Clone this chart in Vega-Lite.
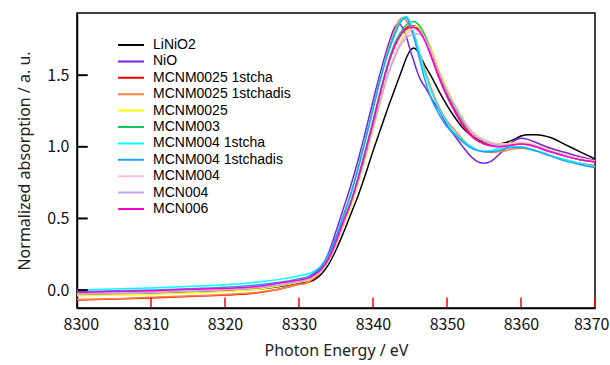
{
 "$schema": "https://vega.github.io/schema/vega-lite/v6.json",
 "width": 518, "height": 295,
 "autosize": {"type": "none"},
 "padding": {"left": 77, "top": 13, "right": 15, "bottom": 57},
 "background": "white",
 "config": {"view": {"stroke": "black", "strokeWidth": 1.5}},
 "layer": [
 {
 "data": {"values": [
  {"E":8300,"LiNiO2":-0.03,"NiO":-0.02,"MCNM0025 1stcha":-0.07,"MCNM0025 1stchadis":-0.065,"MCNM0025":-0.04,"MCNM003":-0.025,"MCNM004 1stcha":0.0,"MCNM004 1stchadis":-0.01,"MCNM004":-0.02,"MCN004":-0.03,"MCN006":-0.015},
  {"E":8305,"LiNiO2":-0.025,"NiO":-0.02,"MCNM0025 1stcha":-0.063,"MCNM0025 1stchadis":-0.06,"MCNM0025":-0.035,"MCNM003":-0.02,"MCNM004 1stcha":0.008,"MCNM004 1stchadis":-0.005,"MCNM004":-0.015,"MCN004":-0.025,"MCN006":-0.01},
  {"E":8310,"LiNiO2":-0.02,"NiO":-0.012,"MCNM0025 1stcha":-0.055,"MCNM0025 1stchadis":-0.05,"MCNM0025":-0.03,"MCNM003":-0.015,"MCNM004 1stcha":0.015,"MCNM004 1stchadis":0.0,"MCNM004":-0.01,"MCN004":-0.02,"MCN006":-0.005},
  {"E":8315,"LiNiO2":-0.012,"NiO":-0.005,"MCNM0025 1stcha":-0.045,"MCNM0025 1stchadis":-0.042,"MCNM0025":-0.02,"MCNM003":-0.005,"MCNM004 1stcha":0.025,"MCNM004 1stchadis":0.01,"MCNM004":0.0,"MCN004":-0.01,"MCN006":0.005},
  {"E":8320,"LiNiO2":-0.005,"NiO":0.0,"MCNM0025 1stcha":-0.035,"MCNM0025 1stchadis":-0.03,"MCNM0025":-0.01,"MCNM003":0.005,"MCNM004 1stcha":0.037,"MCNM004 1stchadis":0.02,"MCNM004":0.01,"MCN004":0.0,"MCN006":0.012},
  {"E":8325,"LiNiO2":0.01,"NiO":0.015,"MCNM0025 1stcha":-0.015,"MCNM0025 1stchadis":-0.012,"MCNM0025":0.01,"MCNM003":0.02,"MCNM004 1stcha":0.06,"MCNM004 1stchadis":0.04,"MCNM004":0.025,"MCN004":0.02,"MCN006":0.03},
  {"E":8328,"LiNiO2":0.03,"NiO":0.04,"MCNM0025 1stcha":0.015,"MCNM0025 1stchadis":0.015,"MCNM0025":0.035,"MCNM003":0.045,"MCNM004 1stcha":0.08,"MCNM004 1stchadis":0.06,"MCNM004":0.05,"MCN004":0.04,"MCN006":0.055},
  {"E":8330,"LiNiO2":0.05,"NiO":0.06,"MCNM0025 1stcha":0.04,"MCNM0025 1stchadis":0.04,"MCNM0025":0.055,"MCNM003":0.065,"MCNM004 1stcha":0.1,"MCNM004 1stchadis":0.08,"MCNM004":0.065,"MCN004":0.06,"MCN006":0.07},
  {"E":8331,"LiNiO2":0.055,"NiO":0.075,"MCNM0025 1stcha":0.05,"MCNM0025 1stchadis":0.05,"MCNM0025":0.065,"MCNM003":0.075,"MCNM004 1stcha":0.11,"MCNM004 1stchadis":0.09,"MCNM004":0.075,"MCN004":0.07,"MCN006":0.08},
  {"E":8332,"LiNiO2":0.07,"NiO":0.11,"MCNM0025 1stcha":0.08,"MCNM0025 1stchadis":0.085,"MCNM0025":0.09,"MCNM003":0.1,"MCNM004 1stcha":0.13,"MCNM004 1stchadis":0.12,"MCNM004":0.1,"MCN004":0.095,"MCN006":0.105},
  {"E":8333,"LiNiO2":0.11,"NiO":0.16,"MCNM0025 1stcha":0.13,"MCNM0025 1stchadis":0.14,"MCNM0025":0.13,"MCNM003":0.145,"MCNM004 1stcha":0.17,"MCNM004 1stchadis":0.165,"MCNM004":0.14,"MCN004":0.135,"MCN006":0.145},
  {"E":8334,"LiNiO2":0.18,"NiO":0.26,"MCNM0025 1stcha":0.21,"MCNM0025 1stchadis":0.23,"MCNM0025":0.2,"MCNM003":0.22,"MCNM004 1stcha":0.25,"MCNM004 1stchadis":0.25,"MCNM004":0.21,"MCN004":0.21,"MCN006":0.22},
  {"E":8335,"LiNiO2":0.28,"NiO":0.41,"MCNM0025 1stcha":0.33,"MCNM0025 1stchadis":0.36,"MCNM0025":0.31,"MCNM003":0.34,"MCNM004 1stcha":0.37,"MCNM004 1stchadis":0.37,"MCNM004":0.32,"MCN004":0.32,"MCN006":0.34},
  {"E":8336,"LiNiO2":0.4,"NiO":0.57,"MCNM0025 1stcha":0.47,"MCNM0025 1stchadis":0.51,"MCNM0025":0.44,"MCNM003":0.48,"MCNM004 1stcha":0.52,"MCNM004 1stchadis":0.52,"MCNM004":0.46,"MCN004":0.46,"MCN006":0.48},
  {"E":8337,"LiNiO2":0.53,"NiO":0.73,"MCNM0025 1stcha":0.61,"MCNM0025 1stchadis":0.67,"MCNM0025":0.58,"MCNM003":0.62,"MCNM004 1stcha":0.67,"MCNM004 1stchadis":0.67,"MCNM004":0.6,"MCN004":0.6,"MCN006":0.61},
  {"E":8338,"LiNiO2":0.66,"NiO":0.91,"MCNM0025 1stcha":0.78,"MCNM0025 1stchadis":0.86,"MCNM0025":0.74,"MCNM003":0.79,"MCNM004 1stcha":0.86,"MCNM004 1stchadis":0.85,"MCNM004":0.76,"MCN004":0.76,"MCN006":0.78},
  {"E":8339,"LiNiO2":0.81,"NiO":1.11,"MCNM0025 1stcha":0.97,"MCNM0025 1stchadis":1.06,"MCNM0025":0.92,"MCNM003":0.98,"MCNM004 1stcha":1.06,"MCNM004 1stchadis":1.05,"MCNM004":0.94,"MCN004":0.94,"MCN006":0.97},
  {"E":8340,"LiNiO2":0.97,"NiO":1.32,"MCNM0025 1stcha":1.17,"MCNM0025 1stchadis":1.27,"MCNM0025":1.11,"MCNM003":1.18,"MCNM004 1stcha":1.27,"MCNM004 1stchadis":1.26,"MCNM004":1.13,"MCN004":1.13,"MCN006":1.17},
  {"E":8341,"LiNiO2":1.12,"NiO":1.52,"MCNM0025 1stcha":1.38,"MCNM0025 1stchadis":1.48,"MCNM0025":1.31,"MCNM003":1.39,"MCNM004 1stcha":1.48,"MCNM004 1stchadis":1.47,"MCNM004":1.33,"MCN004":1.32,"MCN006":1.38},
  {"E":8342,"LiNiO2":1.27,"NiO":1.7,"MCNM0025 1stcha":1.57,"MCNM0025 1stchadis":1.67,"MCNM0025":1.5,"MCNM003":1.58,"MCNM004 1stcha":1.66,"MCNM004 1stchadis":1.65,"MCNM004":1.51,"MCN004":1.5,"MCN006":1.57},
  {"E":8343,"LiNiO2":1.41,"NiO":1.84,"MCNM0025 1stcha":1.71,"MCNM0025 1stchadis":1.82,"MCNM0025":1.65,"MCNM003":1.73,"MCNM004 1stcha":1.8,"MCNM004 1stchadis":1.79,"MCNM004":1.65,"MCN004":1.63,"MCN006":1.71},
  {"E":8343.5,"LiNiO2":1.48,"NiO":1.86,"MCNM0025 1stcha":1.76,"MCNM0025 1stchadis":1.88,"MCNM0025":1.71,"MCNM003":1.78,"MCNM004 1stcha":1.86,"MCNM004 1stchadis":1.85,"MCNM004":1.71,"MCN004":1.69,"MCN006":1.76},
  {"E":8344,"LiNiO2":1.55,"NiO":1.83,"MCNM0025 1stcha":1.8,"MCNM0025 1stchadis":1.9,"MCNM0025":1.76,"MCNM003":1.82,"MCNM004 1stcha":1.9,"MCNM004 1stchadis":1.89,"MCNM004":1.75,"MCN004":1.73,"MCN006":1.8},
  {"E":8344.5,"LiNiO2":1.62,"NiO":1.77,"MCNM0025 1stcha":1.83,"MCNM0025 1stchadis":1.88,"MCNM0025":1.8,"MCNM003":1.85,"MCNM004 1stcha":1.91,"MCNM004 1stchadis":1.9,"MCNM004":1.78,"MCN004":1.76,"MCN006":1.82},
  {"E":8345,"LiNiO2":1.67,"NiO":1.68,"MCNM0025 1stcha":1.845,"MCNM0025 1stchadis":1.83,"MCNM0025":1.83,"MCNM003":1.87,"MCNM004 1stcha":1.87,"MCNM004 1stchadis":1.85,"MCNM004":1.81,"MCN004":1.78,"MCN006":1.835},
  {"E":8345.5,"LiNiO2":1.69,"NiO":1.6,"MCNM0025 1stcha":1.845,"MCNM0025 1stchadis":1.77,"MCNM0025":1.84,"MCNM003":1.875,"MCNM004 1stcha":1.8,"MCNM004 1stchadis":1.77,"MCNM004":1.82,"MCN004":1.79,"MCN006":1.835},
  {"E":8346,"LiNiO2":1.67,"NiO":1.52,"MCNM0025 1stcha":1.83,"MCNM0025 1stchadis":1.7,"MCNM0025":1.84,"MCNM003":1.86,"MCNM004 1stcha":1.71,"MCNM004 1stchadis":1.67,"MCNM004":1.82,"MCN004":1.79,"MCN006":1.82},
  {"E":8346.5,"LiNiO2":1.62,"NiO":1.46,"MCNM0025 1stcha":1.8,"MCNM0025 1stchadis":1.62,"MCNM0025":1.82,"MCNM003":1.83,"MCNM004 1stcha":1.61,"MCNM004 1stchadis":1.57,"MCNM004":1.8,"MCN004":1.78,"MCN006":1.79},
  {"E":8347,"LiNiO2":1.57,"NiO":1.42,"MCNM0025 1stcha":1.75,"MCNM0025 1stchadis":1.54,"MCNM0025":1.78,"MCNM003":1.78,"MCNM004 1stcha":1.52,"MCNM004 1stchadis":1.47,"MCNM004":1.76,"MCN004":1.75,"MCN006":1.74},
  {"E":8348,"LiNiO2":1.48,"NiO":1.33,"MCNM0025 1stcha":1.62,"MCNM0025 1stchadis":1.39,"MCNM0025":1.67,"MCNM003":1.65,"MCNM004 1stcha":1.37,"MCNM004 1stchadis":1.32,"MCNM004":1.65,"MCN004":1.64,"MCN006":1.61},
  {"E":8349,"LiNiO2":1.38,"NiO":1.25,"MCNM0025 1stcha":1.48,"MCNM0025 1stchadis":1.27,"MCNM0025":1.53,"MCNM003":1.51,"MCNM004 1stcha":1.26,"MCNM004 1stchadis":1.22,"MCNM004":1.52,"MCN004":1.51,"MCN006":1.47},
  {"E":8350,"LiNiO2":1.29,"NiO":1.15,"MCNM0025 1stcha":1.36,"MCNM0025 1stchadis":1.18,"MCNM0025":1.41,"MCNM003":1.38,"MCNM004 1stcha":1.17,"MCNM004 1stchadis":1.14,"MCNM004":1.4,"MCN004":1.39,"MCN006":1.35},
  {"E":8351,"LiNiO2":1.21,"NiO":1.08,"MCNM0025 1stcha":1.26,"MCNM0025 1stchadis":1.12,"MCNM0025":1.3,"MCNM003":1.28,"MCNM004 1stcha":1.1,"MCNM004 1stchadis":1.09,"MCNM004":1.3,"MCN004":1.29,"MCN006":1.25},
  {"E":8352,"LiNiO2":1.14,"NiO":1.01,"MCNM0025 1stcha":1.17,"MCNM0025 1stchadis":1.06,"MCNM0025":1.21,"MCNM003":1.19,"MCNM004 1stcha":1.05,"MCNM004 1stchadis":1.04,"MCNM004":1.21,"MCN004":1.2,"MCN006":1.16},
  {"E":8353,"LiNiO2":1.09,"NiO":0.945,"MCNM0025 1stcha":1.1,"MCNM0025 1stchadis":1.01,"MCNM0025":1.13,"MCNM003":1.12,"MCNM004 1stcha":1.01,"MCNM004 1stchadis":1.0,"MCNM004":1.13,"MCN004":1.12,"MCN006":1.09},
  {"E":8354,"LiNiO2":1.055,"NiO":0.9,"MCNM0025 1stcha":1.05,"MCNM0025 1stchadis":0.98,"MCNM0025":1.08,"MCNM003":1.07,"MCNM004 1stcha":0.98,"MCNM004 1stchadis":0.975,"MCNM004":1.08,"MCN004":1.07,"MCN006":1.045},
  {"E":8355,"LiNiO2":1.035,"NiO":0.885,"MCNM0025 1stcha":1.025,"MCNM0025 1stchadis":0.965,"MCNM0025":1.05,"MCNM003":1.04,"MCNM004 1stcha":0.97,"MCNM004 1stchadis":0.965,"MCNM004":1.05,"MCN004":1.04,"MCN006":1.02},
  {"E":8356,"LiNiO2":1.02,"NiO":0.9,"MCNM0025 1stcha":1.01,"MCNM0025 1stchadis":0.96,"MCNM0025":1.03,"MCNM003":1.02,"MCNM004 1stcha":0.975,"MCNM004 1stchadis":0.965,"MCNM004":1.03,"MCN004":1.02,"MCN006":1.005},
  {"E":8357,"LiNiO2":1.02,"NiO":0.945,"MCNM0025 1stcha":1.005,"MCNM0025 1stchadis":0.965,"MCNM0025":1.02,"MCNM003":1.01,"MCNM004 1stcha":0.99,"MCNM004 1stchadis":0.975,"MCNM004":1.02,"MCN004":1.01,"MCN006":1.0},
  {"E":8358,"LiNiO2":1.03,"NiO":0.995,"MCNM0025 1stcha":1.01,"MCNM0025 1stchadis":0.975,"MCNM0025":1.02,"MCNM003":1.01,"MCNM004 1stcha":1.0,"MCNM004 1stchadis":0.99,"MCNM004":1.02,"MCN004":1.01,"MCN006":1.005},
  {"E":8359,"LiNiO2":1.05,"NiO":1.04,"MCNM0025 1stcha":1.015,"MCNM0025 1stchadis":0.985,"MCNM0025":1.025,"MCNM003":1.015,"MCNM004 1stcha":1.0,"MCNM004 1stchadis":0.995,"MCNM004":1.025,"MCN004":1.015,"MCN006":1.015},
  {"E":8360,"LiNiO2":1.075,"NiO":1.06,"MCNM0025 1stcha":1.02,"MCNM0025 1stchadis":0.99,"MCNM0025":1.03,"MCNM003":1.02,"MCNM004 1stcha":1.0,"MCNM004 1stchadis":0.995,"MCNM004":1.03,"MCN004":1.02,"MCN006":1.02},
  {"E":8361,"LiNiO2":1.085,"NiO":1.05,"MCNM0025 1stcha":1.015,"MCNM0025 1stchadis":0.985,"MCNM0025":1.025,"MCNM003":1.015,"MCNM004 1stcha":0.99,"MCNM004 1stchadis":0.985,"MCNM004":1.025,"MCN004":1.015,"MCN006":1.015},
  {"E":8362,"LiNiO2":1.085,"NiO":1.03,"MCNM0025 1stcha":1.0,"MCNM0025 1stchadis":0.975,"MCNM0025":1.01,"MCNM003":1.0,"MCNM004 1stcha":0.975,"MCNM004 1stchadis":0.97,"MCNM004":1.01,"MCN004":1.0,"MCN006":1.0},
  {"E":8364,"LiNiO2":1.065,"NiO":0.99,"MCNM0025 1stcha":0.965,"MCNM0025 1stchadis":0.94,"MCNM0025":0.975,"MCNM003":0.965,"MCNM004 1stcha":0.94,"MCNM004 1stchadis":0.935,"MCNM004":0.975,"MCN004":0.965,"MCN006":0.965},
  {"E":8366,"LiNiO2":1.015,"NiO":0.96,"MCNM0025 1stcha":0.935,"MCNM0025 1stchadis":0.91,"MCNM0025":0.945,"MCNM003":0.935,"MCNM004 1stcha":0.91,"MCNM004 1stchadis":0.9,"MCNM004":0.945,"MCN004":0.935,"MCN006":0.935},
  {"E":8368,"LiNiO2":0.965,"NiO":0.93,"MCNM0025 1stcha":0.91,"MCNM0025 1stchadis":0.885,"MCNM0025":0.92,"MCNM003":0.91,"MCNM004 1stcha":0.885,"MCNM004 1stchadis":0.875,"MCNM004":0.92,"MCN004":0.91,"MCN006":0.91},
  {"E":8370,"LiNiO2":0.915,"NiO":0.905,"MCNM0025 1stcha":0.895,"MCNM0025 1stchadis":0.87,"MCNM0025":0.9,"MCNM003":0.895,"MCNM004 1stcha":0.86,"MCNM004 1stchadis":0.855,"MCNM004":0.9,"MCN004":0.895,"MCN006":0.895}
 ]},
 "transform": [{"fold": ["LiNiO2","NiO","MCNM0025 1stcha","MCNM0025 1stchadis","MCNM0025","MCNM003","MCNM004 1stcha","MCNM004 1stchadis","MCNM004","MCN004","MCN006"], "as": ["series","value"]}],
 "mark": {"type": "line", "strokeWidth": 1.5, "interpolate": "monotone"},
 "encoding": {
  "x": {"field": "E", "type": "quantitative", "title": "Photon Energy / eV",
   "scale": {"domain": [8300, 8370], "nice": false, "zero": false},
   "axis": {"values": [8300,8310,8320,8330,8340,8350,8360,8370], "format": "d", "grid": false, "ticks": false, "labelFlush": true, "labelFlushOffset": 14,
    "domainColor": "black", "domainWidth": 1.5,
    "labelPadding": 8, "labelFont": "Noto Sans CJK JP", "labelFontSize": 16, "labelColor": "#111",
    "titleFont": "Noto Sans", "titleFontSize": 16, "titleFontWeight": "normal", "titleColor": "#222", "titlePadding": 10}},
  "y": {"field": "value", "type": "quantitative", "title": "Normalized absorption / a. u.",
   "scale": {"domain": [-0.125, 1.934], "nice": false, "zero": false},
   "axis": {"values": [0, 0.5, 1, 1.5], "format": ".1f", "grid": false, "ticks": false, "labelFlush": false,
    "domainColor": "black", "domainWidth": 1.5,
    "labelPadding": 8, "labelFont": "Noto Sans CJK JP", "labelFontSize": 16, "labelColor": "#111",
    "titleFont": "Noto Sans", "titleFontSize": 16, "titleFontWeight": "normal", "titleColor": "#222", "titlePadding": 14}},
  "color": {"field": "series", "type": "nominal",
   "scale": {"domain": ["LiNiO2","NiO","MCNM0025 1stcha","MCNM0025 1stchadis","MCNM0025","MCNM003","MCNM004 1stcha","MCNM004 1stchadis","MCNM004","MCN004","MCN006"],
    "range": ["#000000","#7b22d9","#ff0000","#ff8040","#ffff00","#10c860","#00ffff","#20a0ff","#ffc0c8","#c8a8e8","#ff00cc"]},
   "legend": {"title": null, "orient": "none", "legendX": 40, "legendY": 24, "symbolType": "stroke", "symbolSize": 676, "symbolStrokeWidth": 2, "clipHeight": 16,
    "labelFont": "Liberation Sans", "labelFontSize": 14, "labelColor": "black", "labelOffset": 8, "rowPadding": 0.4, "padding": 0}}
 }
 },
 {
  "data": {"values": [{"t":8310},{"t":8320},{"t":8330},{"t":8340},{"t":8350},{"t":8360},{"t":8370}]},
  "mark": {"type": "rule", "color": "red", "strokeWidth": 1.5},
  "encoding": {"x": {"field": "t", "type": "quantitative"}, "y": {"datum": -0.12, "type": "quantitative"}, "y2": {"datum": -0.052}}
 },
 {
  "data": {"values": [{"t":0},{"t":0.5},{"t":1.0},{"t":1.5}]},
  "mark": {"type": "rule", "color": "black", "strokeWidth": 2},
  "encoding": {"y": {"field": "t", "type": "quantitative"}, "x": {"datum": 8300.1, "type": "quantitative"}, "x2": {"datum": 8301.45}}
 }
 ]
}
